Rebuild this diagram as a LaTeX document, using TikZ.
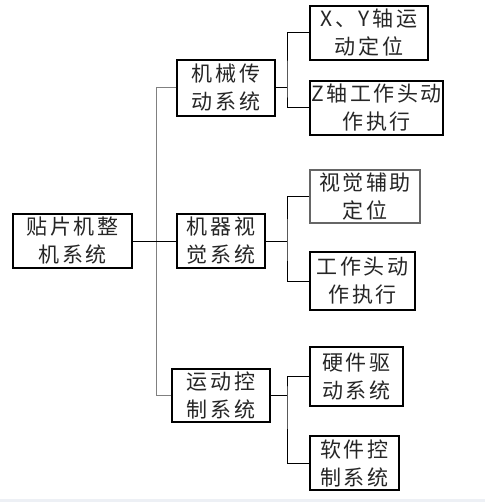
\documentclass[tikz,border=0pt]{standalone}
\usepackage{fontspec}
\newfontfamily\cjk[LetterSpace=12]{Noto Sans CJK SC}
\begin{document}
\begin{tikzpicture}[x=1pt,y=1pt,
  box/.style={draw=black, line width=1.1pt, inner sep=0pt, align=center,
    font=\cjk\fontsize{21}{28}\selectfont, text=black!85},
  link/.style={draw=black, line width=1pt},
  trunk/.style={draw=black!50, line width=1pt}]
\useasboundingbox (0,0) rectangle (485,-502);
\fill[white] (0,0) rectangle (485,-502);
\fill[fill={rgb,255:red,237;green,240;blue,245}] (0,-499) rectangle (485,-502);

\node[box, minimum width=119pt, minimum height=54pt] (root) at (72.5,-241) {贴片机整\\机系统};
\node[box, minimum width=98pt, minimum height=56pt] (mech) at (226,-88) {机械传\\动系统};
\node[box, minimum width=88pt, minimum height=54pt] (vis) at (221,-241) {机器视\\觉系统};
\node[box, minimum width=98pt, minimum height=53pt] (mot) at (221,-395.5) {运动控\\制系统};

\node[box, minimum width=118pt, minimum height=54pt] (A) at (369,-33) {X、Y轴运\\动定位};
\node[box, minimum width=133pt, minimum height=54pt] (B) at (376.5,-108) {Z轴工作头动\\作执行};
\node[box, draw=black!60, minimum width=110pt, minimum height=53pt] (C) at (365,-196.5) {视觉辅助\\定位};
\node[box, minimum width=105pt, minimum height=58pt] (D) at (362.5,-281) {工作头动\\作执行};
\node[box, minimum width=93pt, minimum height=59pt] (E) at (356.5,-376.5) {硬件驱\\动系统};
\node[box, minimum width=89pt, minimum height=54pt] (F) at (354.5,-463) {软件控\\制系统};

\coordinate (tr) at (156,0);
\coordinate (s1) at (287,-88);
\coordinate (s2) at (287,-241);
\coordinate (s3) at (287,-395.5);

\draw[trunk] (mech.west) -| (tr |- mot.west) -- (mot.west);
\draw[link] (root.east) -- (vis.west);

\draw[link] (mech.east) -- (s1);
\draw[link] (A.west) -| (s1) |- (B.west);
\draw[link] (vis.east) -- (s2);
\draw[link] (C.west) -| (s2) |- (D.west);
\draw[link] (mot.east) -- (s3);
\draw[link] (E.west) -| (s3) |- (F.west);
\end{tikzpicture}
\end{document}
